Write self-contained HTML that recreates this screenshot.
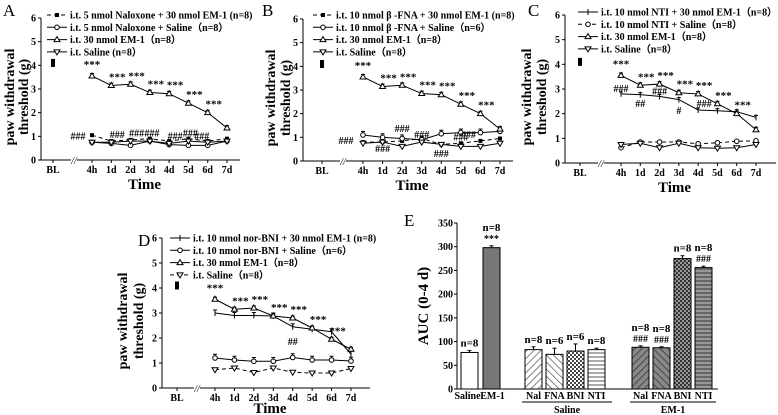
<!DOCTYPE html>
<html><head><meta charset="utf-8"><style>
body{margin:0;background:#fff}
svg{display:block;font-family:"Liberation Serif",serif}
</style></head><body>
<svg id="fig" width="778" height="415" viewBox="0 0 778 415" xmlns="http://www.w3.org/2000/svg">
<defs>
<pattern id="pFwd" width="5" height="5" patternUnits="userSpaceOnUse" patternTransform="rotate(45)"><rect width="5" height="5" fill="#fff"/><line x1="0" y1="0" x2="0" y2="5" stroke="#333" stroke-width="1.2"/></pattern>
<pattern id="pBack" width="5" height="5" patternUnits="userSpaceOnUse" patternTransform="rotate(-45)"><rect width="5" height="5" fill="#fff"/><line x1="0" y1="0" x2="0" y2="5" stroke="#333" stroke-width="1.2"/></pattern>
<pattern id="pChk" width="4" height="4" patternUnits="userSpaceOnUse"><rect width="4" height="4" fill="#fff"/><rect width="2" height="2" fill="#444"/><rect x="2" y="2" width="2" height="2" fill="#444"/></pattern>
<pattern id="pHor" width="4" height="4" patternUnits="userSpaceOnUse"><rect width="4" height="4" fill="#fff"/><line x1="0" y1="1" x2="4" y2="1" stroke="#555" stroke-width="1"/></pattern>
<pattern id="dFwd" width="5" height="5" patternUnits="userSpaceOnUse" patternTransform="rotate(45)"><rect width="5" height="5" fill="#888"/><line x1="0" y1="0" x2="0" y2="5" stroke="#333" stroke-width="1.5"/></pattern>
<pattern id="dBack" width="5" height="5" patternUnits="userSpaceOnUse" patternTransform="rotate(-45)"><rect width="5" height="5" fill="#888"/><line x1="0" y1="0" x2="0" y2="5" stroke="#333" stroke-width="1.5"/></pattern>
<pattern id="dChk" width="4" height="4" patternUnits="userSpaceOnUse"><rect width="4" height="4" fill="#999"/><rect width="2" height="2" fill="#333"/><rect x="2" y="2" width="2" height="2" fill="#333"/></pattern>
<pattern id="dHor" width="4" height="4" patternUnits="userSpaceOnUse"><rect width="4" height="4" fill="#999"/><line x1="0" y1="1" x2="4" y2="1" stroke="#444" stroke-width="1.2"/></pattern>
</defs>
</svg>
<script>
const timeCats=['BL','4h','1d','2d','3d','4d','5d','6d','7d'];
const yTicks=[0,1,2,3,4,5,6];
const blValue=4.1;
const emValues=[3.55,3.15,3.2,2.85,2.8,2.4,2.0,1.35];
const aNalEm=[1.05,0.8,0.85,0.9,0.8,0.9,0.8,0.9];
const aNalSal=[0.75,0.7,0.62,0.8,0.65,0.62,0.62,0.8];
const aSaline=[0.75,0.75,0.8,0.8,0.7,0.8,0.75,0.8];
const bFnaEm=[0.8,0.8,0.85,0.95,0.7,0.75,0.85,0.95];
const bFnaSal=[1.1,1.0,0.95,0.9,1.15,1.2,1.2,1.25];
const bSaline=[0.75,0.8,0.62,0.8,0.7,0.62,0.62,0.75];
const cNtiEm=[2.8,2.77,2.7,2.57,2.15,2.12,2.08,1.85];
const cNtiSal=[0.62,0.85,0.85,0.85,0.78,0.82,0.88,0.9];
const cSaline=[0.75,0.8,0.62,0.8,0.62,0.6,0.62,0.75];
const dBniEm=[3.0,2.9,2.9,2.88,2.45,2.35,2.25,1.35];
const dBniSal=[1.2,1.12,1.07,1.07,1.22,1.12,1.12,1.08];
const dEm=[3.55,3.15,3.2,2.88,2.8,2.4,1.95,1.55];
const dSaline=[0.73,0.8,0.62,0.8,0.63,0.6,0.6,0.78];
const eCats=['Saline','EM-1','Nal','FNA','BNI','NTI','Nal','FNA','BNI','NTI'];
const eValues=[77,298,83,73,80,83,88,87,275,256];
const eErr=[4,4,6,13,15,3,3,2,6,3];
const eN=['n=8','n=8','n=8','n=6','n=6','n=8','n=8','n=8','n=8','n=8'];
const eSig=['','***','','','','','###','###','','###'];
const eTicks=[0,50,100,150,200,250,300,350];

const NS='http://www.w3.org/2000/svg';
const svg=document.getElementById('fig');
function mk(tag,attrs,parent,text){const e=document.createElementNS(NS,tag);for(const k in attrs)e.setAttribute(k,attrs[k]);if(text!==undefined)e.textContent=text;(parent||svg).appendChild(e);return e;}

function marker(g,type,x,y){
  if(type==='sq'){mk('rect',{x:x-2,y:y-2,width:4,height:4,fill:'#000'},g);}
  else if(type==='circ'){mk('circle',{cx:x,cy:y,r:2.3,fill:'#fff',stroke:'#000','stroke-width':1},g);}
  else if(type==='tri'){mk('path',{d:`M${x} ${y-3}L${x+3} ${y+2}L${x-3} ${y+2}Z`,fill:'#fff',stroke:'#000','stroke-width':1},g);}
  else if(type==='itri'){mk('path',{d:`M${x} ${y+3}L${x+3} ${y-2}L${x-3} ${y-2}Z`,fill:'#fff',stroke:'#000','stroke-width':1},g);}
  else if(type==='plus'){mk('line',{x1:x,y1:y-3,x2:x,y2:y+3,stroke:'#000','stroke-width':1},g);}
}

function linePanel(P){
  const g=mk('g',{});
  
  
  const ys=v=>P.y0+(P.y6-P.y0)*v/6;
  const xs=i=>i===0?P.bl:P.x4+(P.x7-P.x4)*(i-1)/7;
  const ax=mk('g',{},g);
  
  
  mk('line',{x1:P.ax,y1:P.y0,x2:P.ax,y2:P.y6,stroke:'#000','stroke-width':1},ax);
  mk('line',{x1:P.ax,y1:P.y0,x2:P.brk-3,y2:P.y0,stroke:'#000','stroke-width':1},ax);
  mk('line',{x1:P.brk+3,y1:P.y0,x2:P.end,y2:P.y0,stroke:'#000','stroke-width':1},ax);
  mk('text',{x:P.brk,y:P.y0+4,'font-size':10,'text-anchor':'middle','font-style':'italic'},ax,'//');
  yTicks.forEach(t=>{mk('line',{x1:P.ax-3,y1:ys(t),x2:P.ax,y2:ys(t),stroke:'#000'},ax);
    mk('text',{x:P.ax-5,y:ys(t)+3.5,'font-size':10,'font-weight':'bold','text-anchor':'end'},ax,String(t));});
  timeCats.forEach((c,i)=>{mk('line',{x1:xs(i),y1:P.y0,x2:xs(i),y2:P.y0+3,stroke:'#000'},ax);
    mk('text',{x:xs(i),y:P.y0+13,'font-size':10,'font-weight':'bold','text-anchor':'middle'},ax,c);});
  const xt=mk('text',{x:(P.ax+P.end)/2+4,y:P.y0+(P.tOff||29),'font-size':15,'font-weight':'bold','text-anchor':'middle'},g,'Time');
  
  const cy=(P.y0+P.y6)/2+8;
  const yt=mk('text',{transform:`translate(${P.yt1},${cy}) rotate(-90)`,'font-size':14,'font-weight':'bold','text-anchor':'middle'},g);
  
  mk('tspan',{x:0,y:0},yt,'paw withdrawal');
  mk('tspan',{x:0,y:P.yt2-P.yt1},yt,'threshold (g)');
  const lt=mk('text',{x:P.lx,y:P.ly,'font-size':17},g,P.letter);
  
  mk('rect',{x:P.bl-2,y:ys(blValue)-4,width:4,height:8,fill:'#000'},g);
  P.series.forEach((s,si)=>{
    const sg=mk('g',{},g);
    
    
    const pts=s.data.map((v,i)=>`${xs(i+1)},${ys(v)}`).join(' ');
    mk('polyline',{points:pts,fill:'none',stroke:'#000','stroke-width':1,'stroke-dasharray':s.dash?'4,3':'none'},sg);
    s.data.forEach((v,i)=>{
      if(s.err){const e=s.err;mk('line',{x1:xs(i+1),y1:ys(v),x2:xs(i+1),y2:ys(v+e),stroke:'#000'},sg);
        mk('line',{x1:xs(i+1)-2,y1:ys(v+e),x2:xs(i+1)+2,y2:ys(v+e),stroke:'#000'},sg);}
      marker(sg,s.m,xs(i+1),ys(v));});
    const ly=P.legY+si*12.3;
    const le=mk('g',{},g);
    
    
    mk('line',{x1:P.legX,y1:ly,x2:P.legX+20,y2:ly,stroke:'#000','stroke-width':1,'stroke-dasharray':s.dash?'4,3':'none'},le);
    marker(le,s.m,P.legX+10,ly);
    mk('text',{x:P.legX+23,y:ly+3.5,'font-size':10,'font-weight':'bold'},le,s.label);
  });
  const sg=mk('g',{},g);
  
  
  P.emRef.forEach((v,i)=>{if(i<7)mk('text',{x:xs(i+1)+(i===0?0:6),y:ys(v)-5+(i===0?-3:0),'font-size':11,'font-weight':'bold','text-anchor':'middle'},sg,'***');});
  (P.hashes||[]).forEach(h=>mk('text',{x:xs(h[0])+(h[3]||0),y:ys(h[1])+3,'font-size':10,'font-weight':'bold','text-anchor':'middle'},sg,h[2]));
}

linePanel({name:'panel-a',letter:'A',lx:3,ly:16,ax:41,y0:160,y6:18,bl:53,x4:92,x7:227,end:240,brk:74,yt1:14,yt2:28,legX:47,legY:15,emRef:emValues,
 hashes:[[1,1.0,'###',-14],[2,1.05,'###',6],[3,1.12,'###',6],[4,1.12,'###',2],[5,1.0,'###',6],[6,1.12,'###',2],[7,1.0,'###',-6]],
 series:[{key:'naloxone-em1',label:'i.t. 5 nmol Naloxone + 30 nmol EM-1 (n=8)',data:aNalEm,m:'sq',dash:true},
  {key:'naloxone-saline',label:'i.t. 5 nmol Naloxone + Saline（n=8）',data:aNalSal,m:'circ'},
  {key:'em1',label:'i.t. 30 nmol EM-1（n=8）',data:emValues,m:'tri',err:0.1},
  {key:'saline',label:'i.t. Saline (n=8）',data:aSaline,m:'itri'}]});
linePanel({name:'panel-b',letter:'B',lx:262,ly:16,ax:303,y0:161,y6:19,bl:322,x4:363,x7:500,end:513,brk:343,yt1:275,yt2:290,legX:313,legY:15,emRef:emValues,
 hashes:[[1,0.85,'###',-17],[2,0.5,'###',0],[3,1.35,'###',0],[4,1.1,'###',0],[5,0.3,'###',0],[6,1.0,'###',0],[7,1.1,'###',-12]],
 series:[{key:'fna-em1',label:'i.t. 10 nmol β -FNA + 30 nmol EM-1 (n=8)',data:bFnaEm,m:'sq',dash:true},
  {key:'fna-saline',label:'i.t. 10 nmol β -FNA + Saline（n=6）',data:bFnaSal,m:'circ',err:0.15},
  {key:'em1',label:'i.t. 30 nmol EM-1（n=8）',data:emValues,m:'tri',err:0.1},
  {key:'saline',label:'i.t. Saline（n=8）',data:bSaline,m:'itri'}]});
linePanel({name:'panel-c',letter:'C',lx:528,ly:16,ax:565,y0:163,y6:15,bl:580,x4:621,x7:756,end:776,brk:601,yt1:531,yt2:546,legX:578,legY:12,emRef:emValues,
 hashes:[[1,3.0,'###',0],[2,2.4,'##',0],[3,2.9,'###',0],[4,2.1,'#',0],[5,2.4,'###',6]],
 series:[{key:'nti-em1',label:'i.t. 10 nmol NTI + 30 nmol EM-1（n=8）',data:cNtiEm,m:'plus',err:0.08},
  {key:'nti-saline',label:'i.t. 10 nmol NTI + Saline（n=8）',data:cNtiSal,m:'circ',dash:true},
  {key:'em1',label:'i.t. 30 nmol EM-1（n=8）',data:emValues,m:'tri',err:0.1},
  {key:'saline',label:'i.t. Saline（n=8）',data:cSaline,m:'itri'}]});
linePanel({name:'panel-d',letter:'D',lx:138,ly:246,ax:162,y0:388,y6:238,bl:177,x4:215,x7:351,end:370,brk:197,yt1:127,yt2:143,legX:170,legY:238,emRef:dEm,tOff:25,
 hashes:[[5,1.85,'##',0]],
 series:[{key:'bni-em1',label:'i.t. 10 nmol nor-BNI + 30 nmol EM-1 (n=8)',data:dBniEm,m:'plus',err:0.12},
  {key:'bni-saline',label:'i.t. 10 nmol nor-BNI + Saline（n=6）',data:dBniSal,m:'circ',err:0.15},
  {key:'em1',label:'i.t. 30 nmol EM-1（n=8）',data:dEm,m:'tri',err:0.08},
  {key:'saline',label:'i.t. Saline（n=8）',data:dSaline,m:'itri',dash:true}]});

(function(){
  const g=mk('g',{});
  
  
  const y0=389,yTop=223,ax=457,end=718;
  const ys=v=>y0-(y0-yTop)*v/350;
  const barX=[461,483,525,546,567,588,632,653,674,695];
  const bw=17;
  const fills=['#fff','#777','url(#pFwd)','url(#pBack)','url(#pChk)','url(#pHor)','url(#dFwd)','url(#dBack)','url(#dChk)','url(#dHor)'];
  mk('text',{x:404,y:226,'font-size':17},g,'E');
  mk('line',{x1:ax,y1:y0,x2:ax,y2:yTop,stroke:'#000'},g);
  mk('line',{x1:ax,y1:y0,x2:end,y2:y0,stroke:'#000'},g);
  eTicks.forEach(t=>{mk('line',{x1:ax-3,y1:ys(t),x2:ax,y2:ys(t),stroke:'#000'},g);
    mk('text',{x:ax-4,y:ys(t)+3.5,'font-size':10,'font-weight':'bold','text-anchor':'end'},g,String(t));});
  const yt=mk('text',{transform:`translate(${428},${306}) rotate(-90)`,'font-size':15,'font-weight':'bold','text-anchor':'middle'},g,'AUC (0-4 d)');
  
  eValues.forEach((v,i)=>{
    const b=mk('rect',{x:barX[i],y:ys(v),width:bw,height:y0-ys(v),fill:fills[i],stroke:'#000','stroke-width':1},g);
    
    
    const cx=barX[i]+bw/2;
    mk('line',{x1:cx,y1:ys(v),x2:cx,y2:ys(v+eErr[i]),stroke:'#000'},g);
    mk('line',{x1:cx-2,y1:ys(v+eErr[i]),x2:cx+2,y2:ys(v+eErr[i]),stroke:'#000'},g);
    const top=ys(v+eErr[i]);
    if(eSig[i]){mk('text',{x:cx,y:top-4,'font-size':10,'font-weight':'bold','text-anchor':'middle'},g,eSig[i]);
      mk('text',{x:cx,y:top-15,'font-size':11,'font-weight':'bold','text-anchor':'middle'},g,eN[i]);}
    else mk('text',{x:cx,y:top-4,'font-size':11,'font-weight':'bold','text-anchor':'middle'},g,eN[i]);
    mk('text',{x:cx+(i<2?(i===0?-2:1):0),y:y0+10,'font-size':10,'font-weight':'bold','text-anchor':'middle'},g,eCats[i]);
  });
  mk('line',{x1:522,y1:402,x2:612,y2:402,stroke:'#000'},g);
  mk('line',{x1:630,y1:402,x2:716,y2:402,stroke:'#000'},g);
  mk('text',{x:567,y:413,'font-size':10,'font-weight':'bold','text-anchor':'middle'},g,'Saline');
  mk('text',{x:673,y:413,'font-size':10,'font-weight':'bold','text-anchor':'middle'},g,'EM-1');
})();
</script>
</body></html>
